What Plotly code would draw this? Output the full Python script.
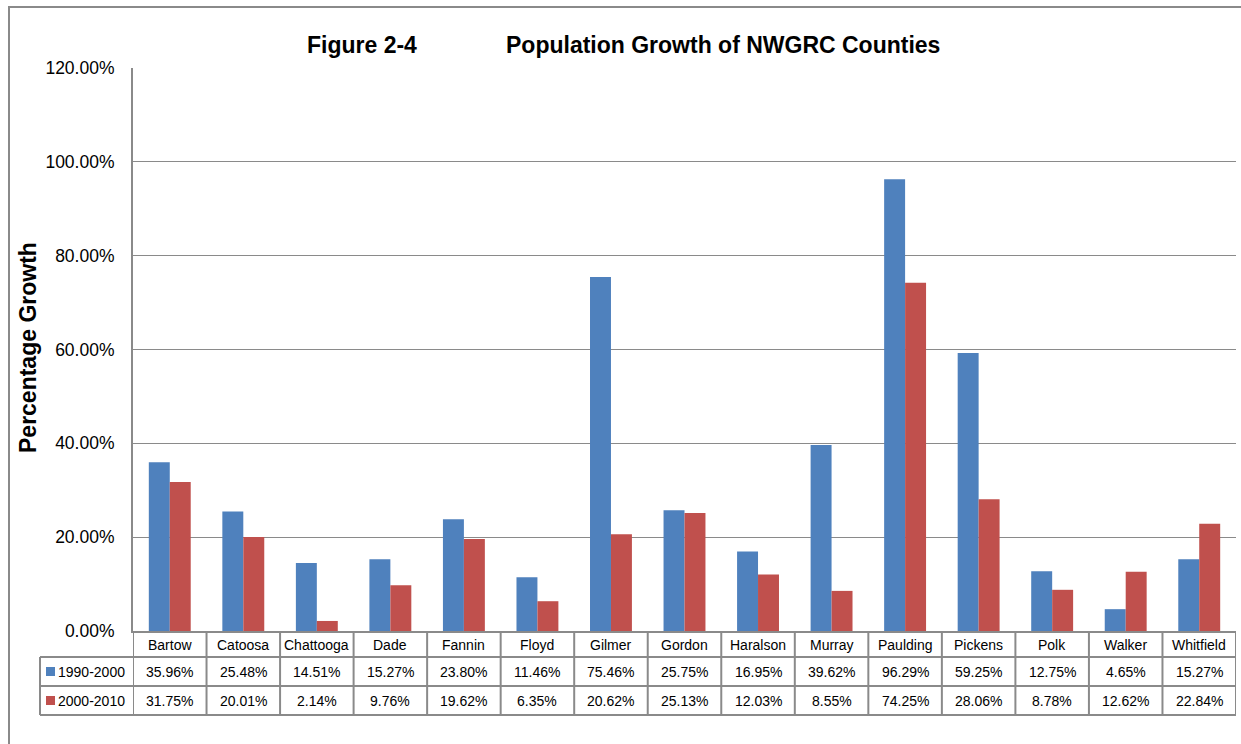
import plotly.graph_objects as go

counties = ["Bartow", "Catoosa", "Chattooga", "Dade", "Fannin", "Floyd", "Gilmer", "Gordon",
            "Haralson", "Murray", "Paulding", "Pickens", "Polk", "Walker", "Whitfield"]
growth_1990_2000 = [35.96, 25.48, 14.51, 15.27, 23.80, 11.46, 75.46, 25.75,
                    16.95, 39.62, 96.29, 59.25, 12.75, 4.65, 15.27]
growth_2000_2010 = [31.75, 20.01, 2.14, 9.76, 19.62, 6.35, 20.62, 25.13,
                    12.03, 8.55, 74.25, 28.06, 8.78, 12.62, 22.84]
series_names = ["1990-2000", "2000-2010"]
series_colors = ["#4F81BD", "#C0504D"]
y_ticks = [0, 0.2, 0.4, 0.6, 0.8, 1.0, 1.2]

FONT = "Liberation Sans, Arial, sans-serif"
GRID = "#8a8a8a"

W, H = 1241, 744
L, R, T, B = 133, 5, 68, 113
PW, PH = W - L - R, H - T - B


def px_x(x):
    return (x - L) / PW


def px_y(y):
    return (H - B - y) / PH


fig = go.Figure()
for name, vals, col in zip(series_names, [growth_1990_2000, growth_2000_2010], series_colors):
    fig.add_trace(go.Bar(x=counties, y=[v / 100 for v in vals], name=name,
                         marker=dict(color=col, line=dict(width=0)), showlegend=False))

shapes = []
annotations = []
line = dict(color=GRID, width=2)
TF = dict(family=FONT, size=14, color="#000")
C = dict(xanchor="center", yanchor="middle", showarrow=False)

# table horizontal lines
for yy in [657, 686, 715]:
    shapes.append(dict(type="line", xref="paper", yref="paper", x0=px_x(40), x1=1.0,
                       y0=px_y(yy), y1=px_y(yy), line=line, layer="above"))
# table vertical lines
shapes.append(dict(type="line", xref="paper", yref="paper", x0=px_x(40), x1=px_x(40),
                   y0=px_y(657), y1=px_y(715), line=line))
for i in range(len(counties) + 1):
    shapes.append(dict(type="line", xref="x", yref="paper", x0=i - 0.5, x1=i - 0.5,
                       y0=0, y1=px_y(715), line=line))

# table text
for i, c in enumerate(counties):
    annotations.append(dict(x=c, y=px_y(644.5), xref="x", yref="paper", text=c, font=TF, **C))
    annotations.append(dict(x=c, y=px_y(671.5), xref="x", yref="paper",
                            text=f"{growth_1990_2000[i]:.2f}%", font=TF, **C))
    annotations.append(dict(x=c, y=px_y(700.5), xref="x", yref="paper",
                            text=f"{growth_2000_2010[i]:.2f}%", font=TF, **C))

for k, (name, col) in enumerate(zip(series_names, series_colors)):
    yc = [671.5, 700.5][k]
    shapes.append(dict(type="rect", xref="paper", yref="paper", x0=px_x(46), x1=px_x(55),
                       y0=px_y(yc + 4.5), y1=px_y(yc - 4.5), fillcolor=col, line=dict(width=0)))
    annotations.append(dict(x=px_x(56), y=px_y(yc), xref="paper", yref="paper", text=name,
                            showarrow=False, xanchor="left", yanchor="middle", font=TF))

# titles
annotations.append(dict(x=px_x(362), y=px_y(45), xref="paper", yref="paper", text="<b>Figure 2-4</b>",
                        font=dict(family=FONT, size=23, color="#000"), **C))
annotations.append(dict(x=px_x(723), y=px_y(45), xref="paper", yref="paper",
                        text="<b>Population Growth of NWGRC Counties</b>",
                        font=dict(family=FONT, size=23, color="#000"), **C))
annotations.append(dict(x=px_x(28), y=px_y(348), xref="paper", yref="paper",
                        text="<b>Percentage Growth</b>", textangle=-90,
                        font=dict(family=FONT, size=23, color="#000"), **C))

# outer border
shapes.append(dict(type="rect", xref="paper", yref="paper", x0=px_x(9), x1=px_x(1260),
                   y0=px_y(760), y1=px_y(7), line=line, fillcolor="rgba(0,0,0,0)"))

fig.update_layout(
    width=W, height=H,
    margin=dict(l=L, r=R, t=T, b=B, pad=0),
    paper_bgcolor="white", plot_bgcolor="white",
    barmode="group", bargap=0.43, bargroupgap=0,
    font=dict(family=FONT, color="#000"),
    shapes=shapes, annotations=annotations,
    xaxis=dict(showticklabels=False, showgrid=False, showline=True, linecolor=GRID, linewidth=2,
               ticks="", range=[-0.5, len(counties) - 0.5], fixedrange=True),
    yaxis=dict(range=[0, 1.2], tickvals=y_ticks, tickformat=".2%", showgrid=True, gridcolor=GRID,
               gridwidth=1, showline=True, linecolor=GRID, linewidth=2, ticks="",
               ticklabelstandoff=13, zeroline=False,
               tickfont=dict(family=FONT, size=17.5, color="#000")),
)

fig.write_html("out.html", config={"displayModeBar": False},
               post_script="document.body.style.margin='0px';document.body.style.overflow='hidden';")
